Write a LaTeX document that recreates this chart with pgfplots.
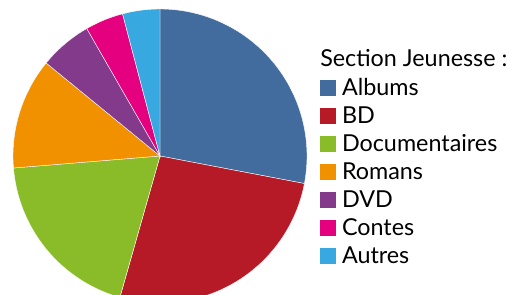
\documentclass[border=0pt]{standalone}
\usepackage{fontspec}
\setmainfont{Lato}
\usepackage{pgfplots}
\pgfplotsset{compat=1.18}
\definecolor{calbums}{HTML}{436C9E}
\definecolor{cbd}{HTML}{B51A26}
\definecolor{cdoc}{HTML}{89BC28}
\definecolor{crom}{HTML}{F29100}
\definecolor{cdvd}{HTML}{833A8A}
\definecolor{ccontes}{HTML}{E4007F}
\definecolor{cautres}{HTML}{37A9E0}
% slice: colour, cumulative percent before, cumulative percent after, name
\newcommand{\slice}[4]{%
  \addplot[fill=#1, draw=white, line width=0.3pt, domain={90-3.6*(#3)}:{90-3.6*(#2)}, samples=90, variable=\t]
    ({160+147*cos(\t)},{139+147*sin(\t)}) -- (axis cs:160,139) -- cycle;
  \addlegendentry{#4}}
\begin{document}
\begin{tikzpicture}
\begin{axis}[
  width=382.5pt, height=221.25pt, scale only axis,
  xmin=0, xmax=510, ymin=0, ymax=295,
  hide axis, clip=true,
  legend image code/.code={\fill[#1, draw=none] (0pt,-4pt) rectangle (12pt,8pt);},
  legend style={draw=none, fill=none, at={(axis cs:320,218)}, anchor=north west,
    font=\fontsize{17.5}{20}\selectfont, inner sep=0pt, outer sep=0pt, row sep=0pt,
    nodes={inner sep=0pt, text height=14pt, text depth=7pt},
    cells={anchor=west},
    /tikz/every odd column/.append style={column sep=4.5pt}},
]
% values (percent): Albums 28, BD 26.4, Documentaires 19.3, Romans 12.2, DVD 5.8, Contes 4.2, Autres 4.1
\slice{calbums}{0}{28}{Albums}
\slice{cbd}{28}{54.4}{BD}
\slice{cdoc}{54.4}{73.7}{Documentaires}
\slice{crom}{73.7}{85.9}{Romans}
\slice{cdvd}{85.9}{91.7}{DVD}
\slice{ccontes}{91.7}{95.9}{Contes}
\slice{cautres}{95.9}{100}{Autres}
\node[anchor=base west, font=\fontsize{17.5}{20}\selectfont, inner sep=0pt] at (axis cs:320,228.3) {Section Jeunesse :};
\end{axis}
\pgfresetboundingbox
\useasboundingbox (current axis.south west) rectangle (current axis.north east);
\end{tikzpicture}
\end{document}
